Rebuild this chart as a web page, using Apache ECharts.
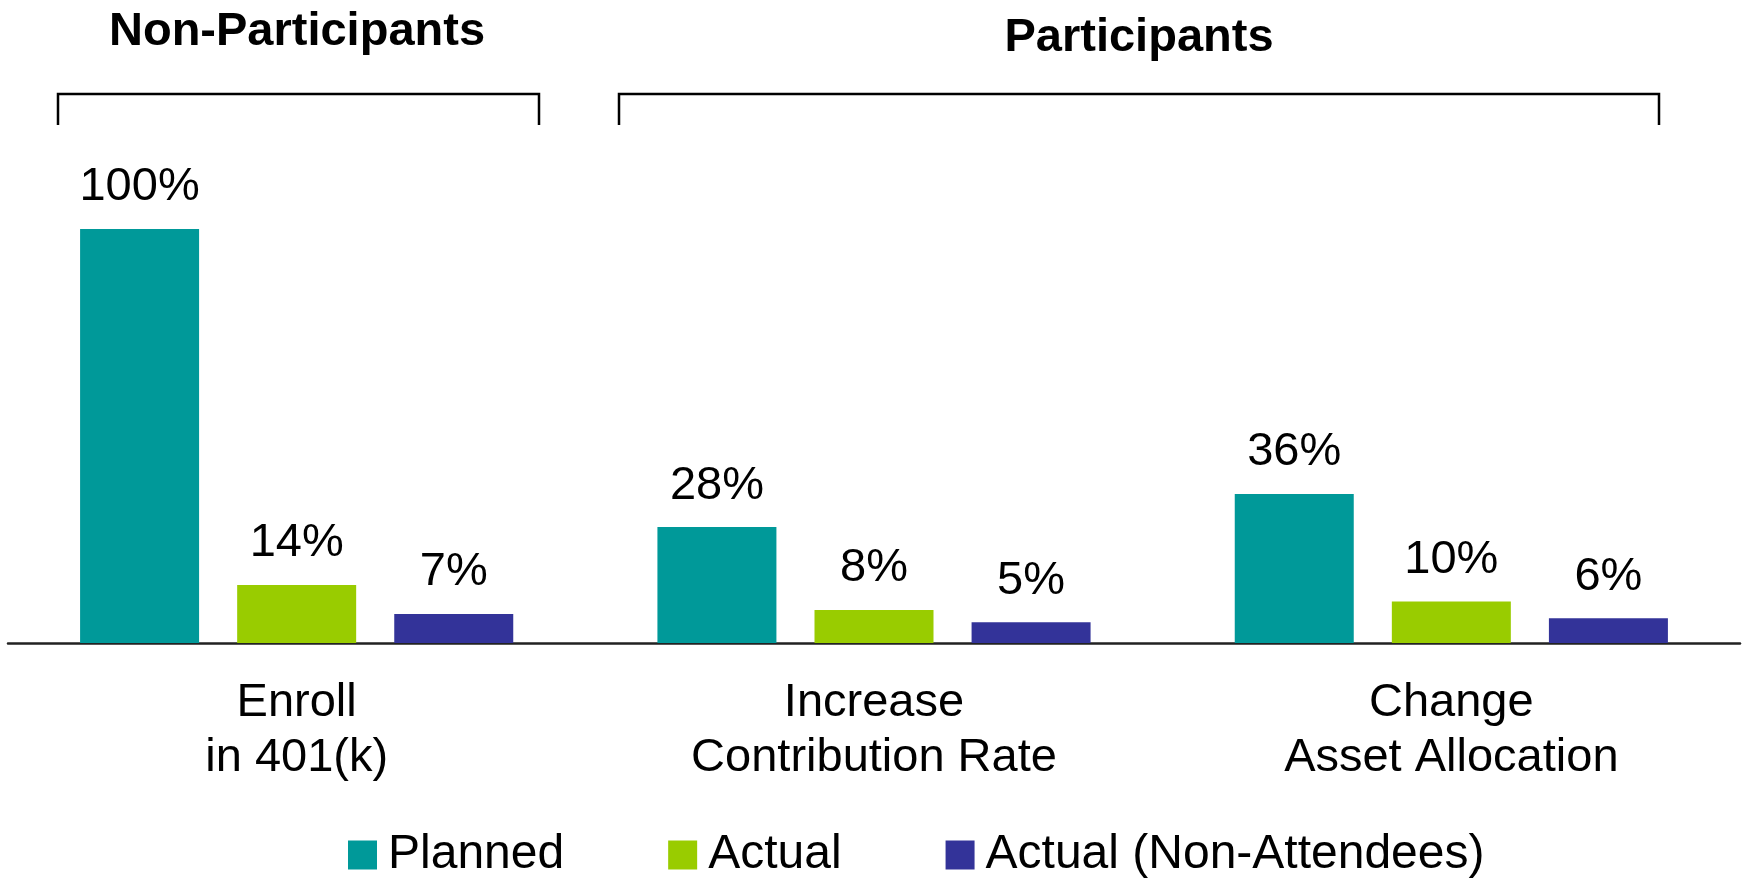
<!DOCTYPE html>
<html>
<head>
<meta charset="utf-8">
<script src="https://cdn.jsdelivr.net/npm/echarts@6/dist/echarts.min.js"></script>
<style>
html,body{margin:0;padding:0;background:#fff;}
#chart{width:1745px;height:879px;}
</style>
</head>
<body>
<div id="chart"></div>
<script>
const categories = ['Enroll\nin 401(k)', 'Increase\nContribution Rate', 'Change\nAsset Allocation'];
const seriesNames = ['Planned', 'Actual', 'Actual (Non-Attendees)'];
const planned = [100, 28, 36];
const actual = [14, 8, 10];
const nonAttendees = [7, 5, 6];
const groupTitles = ['Non-Participants', 'Participants'];

const colors = ['#009999', '#99CC00', '#333399'];
const FONT = '"Liberation Sans", Arial, sans-serif';

const chart = echarts.init(document.getElementById('chart'), null, {renderer: 'canvas'});

function barSeries(name, data, color) {
  return {
    name: name,
    type: 'bar',
    data: data,
    barWidth: 119,
    barGap: '32%',
    itemStyle: {color: color},
    label: {
      show: true,
      position: 'top',
      distance: 18,
      formatter: '{c}%',
      color: '#000',
      fontFamily: FONT,
      fontSize: 47
    }
  };
}

const option = {
  animation: false,
  backgroundColor: '#fff',
  grid: {left: 8, right: 5, top: 229, bottom: 236, containLabel: false},
  xAxis: {
    type: 'category',
    data: categories,
    axisLine: {show: true, lineStyle: {color: '#222', width: 2.5}},
    axisTick: {show: false},
    axisLabel: {
      color: '#000',
      fontFamily: FONT,
      fontSize: 47,
      lineHeight: 55,
      margin: 33,
      interval: 0
    }
  },
  yAxis: {
    type: 'value',
    min: 0,
    max: 100,
    show: false
  },
  legend: {
    data: seriesNames,
    left: 348,
    top: 831,
    padding: 0,
    itemWidth: 29,
    itemHeight: 29,
    itemGap: 104,
    icon: 'rect',
    textStyle: {
      color: '#000',
      fontFamily: FONT,
      fontSize: 48,
      padding: [0, 0, 0, 6]
    }
  },
  series: [
    barSeries(seriesNames[0], planned, colors[0]),
    barSeries(seriesNames[1], actual, colors[1]),
    barSeries(seriesNames[2], nonAttendees, colors[2])
  ],
  graphic: [
    {
      type: 'text',
      x: 297, y: 32,
      style: {
        text: groupTitles[0],
        fill: '#000',
        font: 'bold 47px ' + FONT,
        textAlign: 'center',
        textVerticalAlign: 'middle'
      }
    },
    {
      type: 'text',
      x: 1139, y: 38,
      style: {
        text: groupTitles[1],
        fill: '#000',
        font: 'bold 47px ' + FONT,
        textAlign: 'center',
        textVerticalAlign: 'middle'
      }
    },
    {
      type: 'polyline',
      shape: {points: [[58, 125], [58, 94], [539, 94], [539, 125]]},
      style: {stroke: '#000', lineWidth: 2.5, fill: null}
    },
    {
      type: 'polyline',
      shape: {points: [[619, 125], [619, 94], [1659, 94], [1659, 125]]},
      style: {stroke: '#000', lineWidth: 2.5, fill: null}
    }
  ]
};

chart.setOption(option);
</script>
</body>
</html>
